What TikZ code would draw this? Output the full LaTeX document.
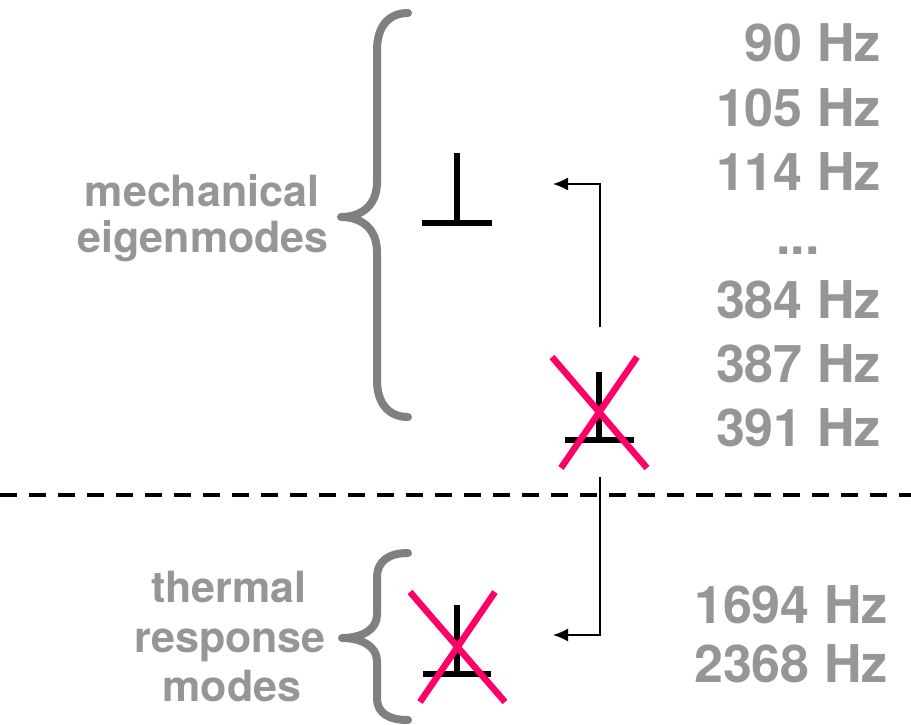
\documentclass[tikz,border=0pt]{standalone}
\usepackage{fontspec}
\setmainfont{TeX Gyre Heros}
\usetikzlibrary{arrows.meta}
\definecolor{txtgray}{RGB}{150,150,150}
\definecolor{brgray}{RGB}{128,128,128}
\definecolor{xred}{RGB}{255,0,102}
\tikzset{
  freq/.style={anchor=base east,inner sep=0pt,text=txtgray,font=\fontsize{52}{62}\selectfont\bfseries},
  lbl/.style={anchor=base,inner sep=0pt,text=txtgray,font=\fontsize{43}{50}\selectfont\bfseries},
  bracestyle/.style={draw=brgray,line width=8pt,line cap=round,line join=round},
  tee/.style={draw=black,line width=6pt},
  cross/.style={draw=xred,line width=6.5pt},
  conn/.style={draw=black,line width=1.6pt,-{Latex[length=15pt,width=13pt]}},
  sep/.style={draw=black,line width=4pt,dash pattern=on 17pt off 12pt}
}
\begin{document}
\begin{tikzpicture}[x=1pt,y=-1pt]
\useasboundingbox (0,0) rectangle (911,725);
% frequencies top
\node[freq] (f1) at (881,62) {90 Hz};
\node[freq] (f2) at (881,126) {105 Hz};
\node[freq] (f3) at (881,190) {114 Hz};
\node[freq,anchor=base] (f4) at (798,254) {...};
\node[freq] (f5) at (881,318) {384 Hz};
\node[freq] (f6) at (881,382) {387 Hz};
\node[freq] (f7) at (881,446) {391 Hz};
% frequencies bottom
\node[freq] (g1) at (888,623) {1694 Hz};
\node[freq] (g2) at (888,682) {2368 Hz};
% labels
\node[lbl] (m1) at (202,206) {mechanical};
\node[lbl] (m2) at (203,252) {eigenmodes};
\node[lbl] (t1) at (229,602) {thermal};
\node[lbl] (t2) at (230,652) {response};
\node[lbl] (t3) at (232,701) {modes};
% braces
\draw[bracestyle] (408,13) .. controls (390,13) and (377,25) .. (377,50) -- (377,182)
  .. controls (377,205) and (362,217) .. (341,217)
  .. controls (362,217) and (377,229) .. (377,252) -- (377,380)
  .. controls (377,405) and (390,417) .. (408,417);
\draw[bracestyle] (408,553) .. controls (390,553) and (377,560) .. (377,578) -- (377,615)
  .. controls (377,630) and (361,638) .. (342,638)
  .. controls (361,638) and (377,646) .. (377,661) -- (377,698)
  .. controls (377,714) and (390,720) .. (408,720);
% tee symbols
\coordinate (a1) at (457,153); \coordinate (a2) at (457,223);
\coordinate (a3) at (422,223); \coordinate (a4) at (492,223);
\draw[tee] (a1) -- (a2); \draw[tee] (a3) -- (a4);
\coordinate (b1) at (599,372); \coordinate (b2) at (599,440);
\coordinate (b3) at (565,440); \coordinate (b4) at (634,440);
\draw[tee] (b1) -- (b2); \draw[tee] (b3) -- (b4);
\coordinate (c1) at (457,605); \coordinate (c2) at (457,674);
\coordinate (c3) at (423,674); \coordinate (c4) at (491,674);
\draw[tee] (c1) -- (c2); \draw[tee] (c3) -- (c4);
% crosses
\draw[cross] (552,357) -- (647,468);
\draw[cross] (637,357) -- (561,468);
\draw[cross] (410,592) -- (505,702);
\draw[cross] (495,592) -- (420,702);
% separator
\coordinate (s1) at (0,495); \coordinate (s2) at (911,495);
\draw[sep] (s1) -- (s2);
% connectors
\coordinate (p1) at (600,327); \coordinate (p2) at (553,184);
\coordinate (q1) at (600,477); \coordinate (q2) at (553,635);
\draw[conn] (p1) |- (p2);
\draw[conn] (q1) |- (q2);
\end{tikzpicture}
\end{document}
